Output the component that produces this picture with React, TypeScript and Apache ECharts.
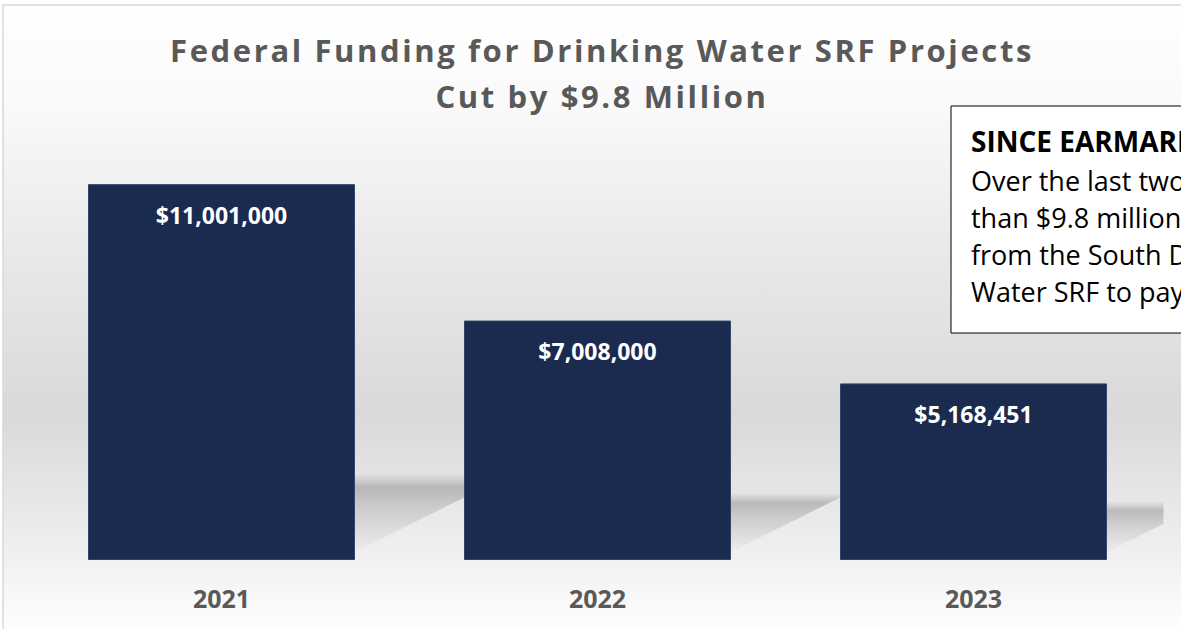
import React, { useEffect, useRef } from "react";
import * as echarts from "echarts";

const titleLines = ["Federal Funding for Drinking Water SRF Projects", "Cut by $9.8 Million"];
const categories = ["2021", "2022", "2023"];
const funding = [11001000, 7008000, 5168451];
const boxHeading = "SINCE EARMARKS RETURNED:";
const boxLines = [
  "Over the last two years, more",
  "than $9.8 million has been taken",
  "from the South Dakota Drinking",
  "Water SRF to pay for earmarks.",
];

const fmt = (v: number) => "$" + v.toLocaleString("en-US");

export default function App() {
  const ref = useRef<HTMLDivElement>(null);
  useEffect(() => {
    if (!ref.current) return;
    const el = ref.current;
    const chart = echarts.init(el, null, { renderer: "svg" });
    const font = "'Open Sans', 'Noto Sans', sans-serif";
    chart.setOption({
      animation: false,
      title: {
        text: titleLines.join("\n"),
        left: 597,
        top: 22,
        textAlign: "center",
        textStyle: {
          fontFamily: font,
          fontSize: 31,
          fontWeight: "bold",
          color: "#595959",
          lineHeight: 46,
        },
      },
      graphic: [
        {
          type: "rect",
          z: -10,
          silent: true,
          shape: { x: 3, y: 5, width: 1220, height: 640 },
          style: {
            stroke: "#d9d9d9",
            lineWidth: 1.5,
            fill: new echarts.graphic.LinearGradient(0, 0, 0, 1, [
              { offset: 0, color: "#ffffff" },
              { offset: 0.15, color: "#fafafa" },
              { offset: 0.4, color: "#e8e8e8" },
              { offset: 0.64, color: "#d9d9d9" },
              { offset: 0.86, color: "#f0f0f0" },
              { offset: 0.97, color: "#fdfdfd" },
              { offset: 1, color: "#ffffff" },
            ]),
          },
        },
        {
          type: "group",
          z: 100,
          children: [
            {
              type: "rect",
              shape: { x: 951, y: 106, width: 320, height: 227 },
              style: { fill: "#ffffff", stroke: "#000000", lineWidth: 1 },
            },
            {
              type: "text",
              x: 971,
              y: 141,
              style: {
                text: boxHeading,
                fontFamily: font,
                fontSize: 28,
                fontWeight: "bold",
                fill: "#000000",
                verticalAlign: "middle",
              },
            },
            ...boxLines.map((t, i) => ({
              type: "text",
              x: 971,
              y: 180 + i * 37.2,
              style: {
                text: t,
                fontFamily: font,
                fontSize: 27,
                fill: "#000000",
                verticalAlign: "middle",
              },
            })),
          ],
        },
      ],
      grid: { left: 33.5, right: 19.5, top: 150, bottom: 69 },
      xAxis: {
        type: "category",
        data: categories,
        axisLine: { show: false },
        axisTick: { show: false },
        axisLabel: {
          fontFamily: font,
          fontSize: 25,
          fontWeight: "bold",
          color: "#595959",
          margin: 25,
        },
      },
      yAxis: {
        type: "value",
        min: 0,
        max: 12000000,
        show: false,
        splitLine: { show: false },
      },
      series: [
        {
          type: "custom",
          z: 1,
          silent: true,
          data: funding.map((v, i) => [i, v]),
          renderItem: (params: any, api: any) => {
            const idx = api.value(0);
            const val = api.value(1);
            const top = api.coord([idx, val]);
            const base = api.coord([idx, 0]);
            const bw = api.size([1, 0])[0];
            const xr = base[0] + bw * 0.355;
            const H = base[1] - top[1];
            const h = 34 + 0.14 * H;
            const gridRight = params.coordSys.x + params.coordSys.width;
            const sw = Math.min(110, gridRight - xr + 2);
            const yb = base[1] - 8;
            return {
              type: "polygon",
              shape: {
                points: [
                  [xr, base[1] - h],
                  [xr + sw, base[1] - h],
                  [xr + sw, yb - 0.5 * sw],
                  [xr, yb],
                ],
              },
              style: {
                fill: new echarts.graphic.LinearGradient(0, 0, 0, 1, [
                  { offset: 0, color: "rgba(0,0,0,0)" },
                  { offset: 0.18, color: "rgba(0,0,0,0.2)" },
                  { offset: 0.45, color: "rgba(0,0,0,0.12)" },
                  { offset: 1, color: "rgba(0,0,0,0.01)" },
                ]),
              },
            };
          },
        },
        {
          type: "bar",
          z: 2,
          data: funding,
          barWidth: "71%",
          itemStyle: { color: "#1b2a4f", borderColor: "#34436a", borderWidth: 1 },
          label: {
            show: true,
            position: "insideTop",
            distance: 19,
            formatter: (p: any) => fmt(p.value),
            fontFamily: font,
            fontSize: 23,
            fontWeight: "bold",
            color: "#ffffff",
          },
        },
      ],
    });
    const applySpacing = () => {
      el.querySelectorAll("text").forEach((t) => {
        const s = t.textContent || "";
        if (s.includes("Federal Funding") || s.includes("Cut by")) {
          t.setAttribute("letter-spacing", "2.6");
        }
      });
    };
    chart.on("finished", applySpacing);
    applySpacing();
    const raf = requestAnimationFrame(applySpacing);
    const tm = setTimeout(applySpacing, 50);
    return () => {
      cancelAnimationFrame(raf);
      clearTimeout(tm);
      chart.dispose();
    };
  }, []);
  return (
    <div
      ref={ref}
      style={{ position: "absolute", left: 0, top: 0, width: 1181, height: 629 }}
    />
  );
}
